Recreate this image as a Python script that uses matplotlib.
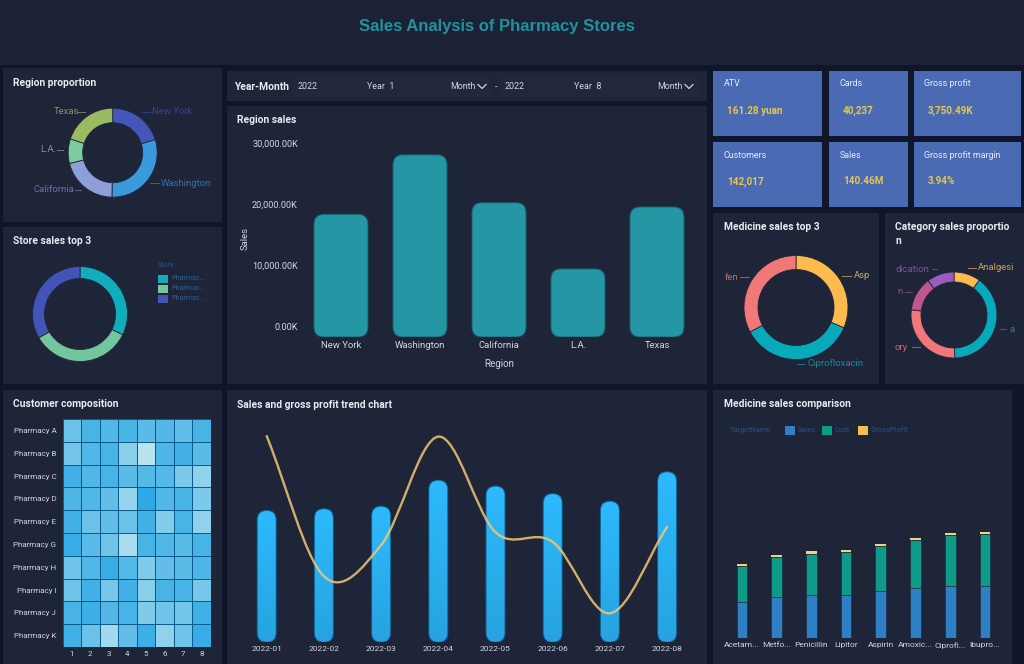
import numpy as np
import matplotlib
matplotlib.use("Agg")
import matplotlib.pyplot as plt
from matplotlib.patches import FancyBboxPatch, Rectangle, PathPatch
from matplotlib.path import Path
from matplotlib.colors import LinearSegmentedColormap
from matplotlib.transforms import ScaledTranslation

plt.rcParams['font.family'] = ['Roboto', 'DejaVu Sans']

# ---------- data ----------
regions = ['New York', 'Washington', 'California', 'L.A.', 'Texas']
region_sales = [20.0, 29.7, 21.9, 11.1, 21.2]          # millions
region_share = [73, 108, 75, 32, 72]
region_ticks = [0, 10, 20, 30]
region_ticklabels = ['0.00K', '10,000.00K', '20,000.00K', '30,000.00K']

store_names = ['Pharmac...', 'Pharmac...', 'Pharmac...']
store_sales = [116, 124, 120]

pharmacies = ['Pharmacy A', 'Pharmacy B', 'Pharmacy C', 'Pharmacy D', 'Pharmacy E',
              'Pharmacy G', 'Pharmacy H', 'Pharmacy I', 'Pharmacy J', 'Pharmacy K']
heat_months = [1, 2, 3, 4, 5, 6, 7, 8]
heat_a = [.35, .15, .20, .15, .25, .20, .30, .15]
heat_b = [.40, .20, .15, .55, .95, .18, .10, .25]
heat_c = [.10, .20, .15, .25, .22, .22, .45, .60]
heat_d = [.18, .20, .30, .65, .00, .20, .15, .45]
heat_e = [.12, .35, .30, .35, .12, .50, .15, .60]
heat_g = [.05, .25, .38, .80, .15, .20, .25, .15]
heat_h = [.38, .20, .05, .22, .48, .30, .25, .18]
heat_i = [.38, .12, .42, .10, .55, .15, .15, .42]
heat_j = [.15, .08, .20, .15, .48, .38, .40, .10]
heat_k = [.10, .35, .75, .30, .08, .60, .38, .05]

trend_months = ['2022-01', '2022-02', '2022-03', '2022-04',
                '2022-05', '2022-06', '2022-07', '2022-08']
trend_sales = [15.7, 15.9, 16.2, 19.3, 18.6, 17.7, 16.8, 20.3]
trend_profit = [620, 359, 417, 619, 441, 423, 290, 451]

medicine_top3 = ['Asp', 'Ciprofloxacin', 'fen']
medicine_top3_sales = [113, 129, 118]

category_labels = ['Analgesi', 'a', 'ory', 'n', 'dication']
category_sales = [36, 143, 98, 46, 37]

medicines = ['Acetam...', 'Metfo...', 'Penicillin', 'Lipitor',
             'Aspirin', 'Amoxic...', 'Ciprofl...', 'Ibupro...']
med_sales = [13.9, 15.9, 16.5, 16.5, 17.9, 19.1, 20.1, 20.1]
med_cost = [13.9, 15.5, 16.1, 16.5, 17.5, 18.6, 19.5, 19.9]
med_profit = [0.7, 0.7, 0.8, 0.8, 0.8, 0.8, 0.8, 0.8]

kpi_names = ['ATV', 'Cards', 'Gross profit', 'Customers', 'Sales', 'Gross profit margin']
kpi_values = ['161.28 yuan', '40,237', '3,750.49K', '142,017', '140.46M', '3.94%']

# ---------- canvas ----------
W, H = 1024, 664
GAP = '#10162a'
PANEL = '#1f2539'
TXT = '#d2d5e0'
TITLE = '#e8eaf2'
fig = plt.figure(figsize=(W / 100, H / 100), dpi=100, facecolor=GAP)


def ax_px(x0, y0, x1, y1, **kw):
    ax = fig.add_axes([x0 / W, 1 - y1 / H, (x1 - x0) / W, (y1 - y0) / H], **kw)
    ax.patch.set_alpha(0)
    return ax


bg = ax_px(0, 0, W, H)
bg.set_xlim(0, W)
bg.set_ylim(H, 0)
bg.axis('off')


def panel(x0, y0, x1, y1, color=PANEL):
    bg.add_patch(Rectangle((x0, y0), x1 - x0, y1 - y0, fc=color, ec='none'))


def label(x, y, s, color=TXT, size=6.6, weight='normal', ha='left', **kw):
    return bg.text(x, y, s, color=color, fontsize=size, fontweight=weight,
                   ha=ha, va='center', **kw)


def title(x, y, s):
    label(x, y, s, color=TITLE, size=7.4, weight='bold')


panel(0, 0, W, 65, '#1c2236')
bg.text(497, 27, 'Sales Analysis of Pharmacy Stores', color='#23919c', fontsize=12.0,
        fontweight='bold', family='Liberation Sans', ha='center', va='center')

for r in [(3, 68, 222, 222), (3, 227, 222, 384), (3, 390, 222, 664),
          (227, 71, 707, 101), (227, 106, 707, 384), (227, 390, 707, 664),
          (713, 213, 879, 384), (885, 213, 1024, 384), (713, 390, 1012, 664)]:
    panel(*r)

title(13, 83, 'Region proportion')
title(13, 241, 'Store sales top 3')
title(13, 404, 'Customer composition')
title(237, 120, 'Region sales')
title(237, 405, 'Sales and gross profit trend chart')
title(724, 227, 'Medicine sales top 3')
label(895, 227, 'Category sales proportio', color=TITLE, size=7.4, weight='bold')
label(895, 241, 'n', color=TITLE, size=7.4, weight='bold')
title(724, 404, 'Medicine sales comparison')

# ---------- filter bar ----------
panel(293, 76, 490, 96, '#21283d')
panel(500, 76, 698, 96, '#21283d')
label(234, 87, 'Year-Month', color=TITLE, size=7.4, weight='bold')
for x, s in [(298, '2022'), (367, 'Year  1'), (450, 'Month'), (495, '-'),
             (505, '2022'), (574, 'Year  8'), (657, 'Month')]:
    label(x, 86.5, s, size=6.4)
for x in (482, 689):
    bg.plot([x - 4, x, x + 4], [84.5, 88.5, 84.5], color=TXT, lw=0.9)

# ---------- KPI cards ----------
kpi_boxes = [(713, 71, 822, 136), (829, 71, 908, 136), (914, 71, 1021, 136),
             (713, 142, 822, 207), (829, 142, 908, 207), (914, 142, 1021, 207)]
for box, name, val in zip(kpi_boxes, kpi_names, kpi_values):
    panel(*box, '#4a6bb4')
    label(box[0] + 10.5, box[1] + 13, name, color='#e6ecfa', size=6.4)
    label(box[0] + 14, box[1] + 39.5, val, color='#e7c64a', size=7.1, weight='bold')


# ---------- donuts ----------
def donut(cx, cy, R, r, values, colors):
    ax = ax_px(cx - R, cy - R, cx + R, cy + R)
    ax.pie(values, colors=colors, startangle=90, counterclock=False, radius=1,
           wedgeprops=dict(width=1 - r / R, edgecolor=PANEL, linewidth=0.6))
    ax.set_xlim(-1, 1)
    ax.set_ylim(-1, 1)


def leader(x0, x1, y, s, color, tx, ha='left'):
    bg.plot([x0, x1], [y, y], color=color, lw=0.7, alpha=0.8)
    label(tx, y, s, color=color, size=6.8, ha=ha)


donut(112.7, 152.7, 44.5, 30, region_share,
      ['#4456b8', '#3b9ade', '#8e9fd8', '#7fcba0', '#9bbb63'])
leader(142, 150, 112, regions[0], '#34439b', 152)
leader(150, 159, 183, regions[1], '#2b74b3', 161)
leader(75, 81, 190, regions[2], '#6a73a8', 33)
leader(57, 63, 150, regions[3], '#7f9a8f', 40)
leader(77, 85, 112, regions[4], '#85965a', 54)

store_colors = ['#10aebc', '#74c69d', '#4354b8']
donut(80, 314, 47.5, 35.5, store_sales, store_colors)
label(158, 265.5, 'Store', color='#2a4f86', size=5.1)
for i, (name, c) in enumerate(zip(store_names, store_colors)):
    y = 278.5 + i * 10
    bg.add_patch(Rectangle((158, y - 4), 9.5, 8.5, fc=c, ec='none'))
    label(171, y, name, color='#2c5c90', size=5.1)

donut(796, 307.5, 52, 38, medicine_top3_sales, ['#fdbb4e', '#08a9bb', '#f07878'])
leader(842, 851, 275.5, medicine_top3[0], '#c9a35a', 854)
leader(797, 804, 364, medicine_top3[1], '#138a9a', 808)
leader(740, 749, 277, medicine_top3[2], '#c9676f', 725)

donut(954, 315, 43, 33, category_sales,
      ['#fdbb4e', '#08a9bb', '#f07878', '#c0558f', '#9b5cc0'])
leader(968, 976, 268, category_labels[0], '#c9a35a', 978)
leader(1000, 1006, 329, category_labels[1], '#138a9a', 1009)
leader(912, 920, 347, category_labels[2], '#c9676f', 895)
leader(905, 912, 292, category_labels[3], '#8f4a78', 897)
leader(932, 937, 269, category_labels[4], '#7f4f9d', 896)


def style_axes(ax):
    for s in ax.spines.values():
        s.set_visible(False)
    ax.tick_params(length=0, colors=TXT)


def round_box(ax, x, w, h, px_x, px_y, radius_px, **kw):
    """Rounded outline of a bar, in data coordinates."""
    return FancyBboxPatch((x - w / 2, 0), w, h,
                          boxstyle=f'round,pad=0,rounding_size={radius_px / px_x}',
                          mutation_aspect=(px_x / px_y), transform=ax.transData, **kw)


# ---------- region sales ----------
ax = ax_px(302, 130, 696, 337)
sp = 79.0
ax.set_xlim((302 - 341) / sp, (696 - 341) / sp)
py = 184 / 30
ax.set_ylim(0, 207 / py)
xs = np.arange(len(regions))
bars = ax.bar(xs, region_sales, width=54 / sp, color='#2596a4')
for b, x, v in zip(bars, xs, region_sales):
    b.set_clip_path(round_box(ax, x, 54 / sp, v, sp, py, 10, fc='none', ec='none'))
    ax.add_patch(round_box(ax, x, 54 / sp, v, sp, py, 10, fc='none', ec='#17606e', lw=0.7))
style_axes(ax)
ax.set_xticks(xs, regions, fontsize=6.8)
ax.set_yticks(region_ticks, region_ticklabels, fontsize=6.6)
ax.tick_params(axis='x', pad=3)
ax.tick_params(axis='y', pad=3)
up = ScaledTranslation(0, 10 / 100, fig.dpi_scale_trans)
for t in ax.get_yticklabels():
    t.set_transform(t.get_transform() + up)
label(499, 364, 'Region', size=7.0, ha='center')
bg.text(245, 239, 'Sales', color=TXT, fontsize=6.8, rotation=90, ha='center', va='center')

# ---------- heatmap ----------
heat = np.array([heat_a, heat_b, heat_c, heat_d, heat_e,
                 heat_g, heat_h, heat_i, heat_j, heat_k])
cmap = LinearSegmentedColormap.from_list('h', ['#2fa9e5', '#84cdea', '#bfe5ef'])
ax = ax_px(62.5, 419, 211, 647)
ax.pcolormesh(np.arange(len(heat_months) + 1), np.arange(len(pharmacies) + 1), heat, cmap=cmap,
              vmin=0, vmax=1, edgecolors='#0b5c8c', linewidth=0.7)
ax.set_ylim(len(pharmacies), 0)
style_axes(ax)
ax.set_xticks(np.arange(len(heat_months)) + .5, heat_months, fontsize=5.8)
ax.set_yticks(np.arange(len(pharmacies)) + .5, pharmacies, fontsize=5.8)
ax.tick_params(axis='x', pad=3)
ax.tick_params(axis='y', pad=4.5)

# ---------- trend ----------
ax = ax_px(238, 420, 696, 642.3)
sp = 57.2
xlim = ((238 - 266.7) / sp, (696 - 266.7) / sp)
py = 8.4
xs = np.arange(len(trend_months))
w = 19 / sp
bars = ax.bar(xs, trend_sales, width=w, color='#2aaeef', zorder=2)
grad_cmap = LinearSegmentedColormap.from_list('g', ['#27a3e0', '#2dbafd'])
ax.set_xlim(*xlim)
ax.set_ylim(0, 222.3 / py)
for b, x, v in zip(bars, xs, trend_sales):
    clip = round_box(ax, x, w, v, sp, py, 9.5, fc='none', ec='none')
    b.set_clip_path(clip)
    im = ax.imshow(np.linspace(1, 0, 128)[:, None], extent=(x - w / 2, x + w / 2, 0, v),
                   aspect='auto', cmap=grad_cmap, zorder=2.1, interpolation='bilinear')
    im.set_clip_path(clip)
    ax.add_patch(round_box(ax, x, w, v, sp, py, 9.5, fc='none', ec='#0d5f92', lw=0.7, zorder=2.2))
ax.set_xlim(*xlim)
ax.set_ylim(0, 222.3 / py)
style_axes(ax)
ax.set_xticks(xs, trend_months, fontsize=6.0)
ax.set_yticks([])
ax.tick_params(axis='x', pad=3)

ax2 = ax.twinx()
ax2.patch.set_alpha(0)
ax2.set_ylim(236, 650)
ax2.set_yticks([])
for s in ax2.spines.values():
    s.set_visible(False)
v = np.array(trend_profit, float)
m = np.empty_like(v)
m[1:-1] = (v[2:] - v[:-2]) / 2
m[0] = v[1] - v[0]
m[-1] = v[-1] - v[-2]
verts, codes = [(0, v[0])], [Path.MOVETO]
for i in range(len(v) - 1):
    verts += [(i + 1 / 3, v[i] + m[i] / 3), (i + 2 / 3, v[i + 1] - m[i + 1] / 3), (i + 1, v[i + 1])]
    codes += [Path.CURVE4] * 3
ax2.add_patch(PathPatch(Path(verts, codes), fc='none', ec='#f2c872', lw=1.7, alpha=0.85,
                        capstyle='round', zorder=5))

# ---------- medicine comparison ----------
ax = ax_px(725, 420, 1002, 637.7)
sp = 34.7
ax.set_xlim((725 - 742) / sp, (1002 - 742) / sp)
ax.set_ylim(0, 84.3)
xs = np.arange(len(medicines))
w = 10.7 / sp
s_arr, c_arr, p_arr = map(np.array, (med_sales, med_cost, med_profit))
ax.bar(xs, s_arr, width=w, color='#2e7fc4', edgecolor=PANEL, linewidth=0.4)
ax.bar(xs, c_arr, width=w, bottom=s_arr, color='#0d9a88', edgecolor=PANEL, linewidth=0.4)
ax.bar(xs, p_arr, width=w, bottom=s_arr + c_arr, color='#f5d27a')
style_axes(ax)
ax.set_xticks(xs, medicines, fontsize=6.0)
ax.set_yticks([])
ax.tick_params(axis='x', pad=3)

label(730, 430, 'TargetName', color='#2a4f86', size=5.3)
for x, name, c, in [(785, 'Sales', '#2e7fc4'), (822, 'Cost', '#0d9a88'), (858, 'GrossProfit', '#f5c04a')]:
    bg.add_patch(Rectangle((x, 425.5), 9.5, 9, fc=c, ec='none'))
    label(x + 12.5, 430, name, color='#2a4f86', size=5.3)

fig.savefig('out.png', dpi=100, facecolor=fig.get_facecolor())
